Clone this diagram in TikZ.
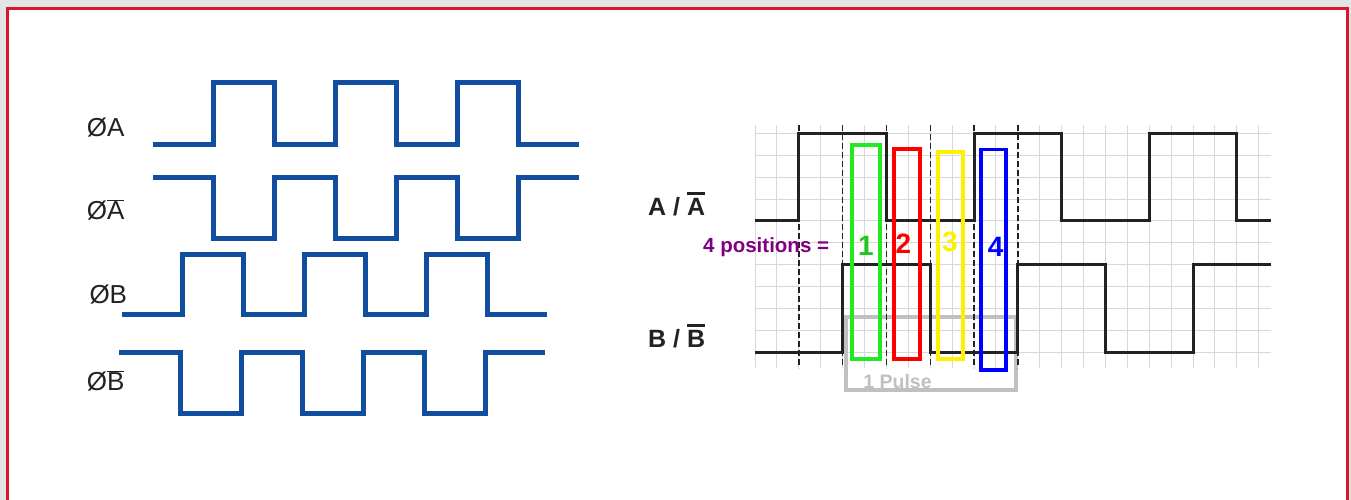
\documentclass[tikz,border=0pt]{standalone}
\usepackage{fontspec}
\setmainfont{Liberation Sans}
\definecolor{bgray}{RGB}{227,228,230}
\definecolor{frame}{RGB}{215,24,42}
\definecolor{sigblue}{RGB}{18,78,160}
\definecolor{ink}{RGB}{34,34,34}
\definecolor{gridc}{RGB}{216,216,216}
\definecolor{gbox}{RGB}{34,234,34}
\definecolor{rbox}{RGB}{255,0,0}
\definecolor{ybox}{RGB}{255,240,0}
\definecolor{bbox}{RGB}{0,0,255}
\definecolor{pulse}{RGB}{192,192,192}
\definecolor{purp}{RGB}{128,0,128}
\newcommand{\ovl}[1]{\ensuremath{\overline{\hbox{#1}}}}
\newcommand{\bovl}[1]{\vbox{\hrule height 2.6pt\kern 3.2pt\hbox{#1}}}
\begin{document}
\begin{tikzpicture}[x=1pt,y=-1pt,
  bluesig/.style={draw=sigblue,line width=5pt,line join=miter},
  blacksig/.style={draw=ink,line width=3pt,line join=miter},
  gridline/.style={draw=gridc,line width=1pt},
  dashline/.style={draw=ink,line width=1.4pt,dash pattern=on 6pt off 3pt},
  posbox/.style={line width=3.5pt},
  leftlabel/.style={anchor=base west,inner sep=0pt,text=ink,font=\fontsize{26}{30}\selectfont},
  rightlabel/.style={anchor=base west,inner sep=0pt,text=ink,font=\fontsize{25}{30}\selectfont\bfseries},
  numlabel/.style={inner sep=0pt,font=\fontsize{28}{32}\selectfont\bfseries}]
\useasboundingbox (0,0) rectangle (1351,500);
\fill[bgray] (0,0) rectangle (1351,500);
\fill[white] (7,9) rectangle (1347.5,510);
\draw[frame,line width=3pt] (7,510) -- (7,9) -- (1347.5,9) -- (1347.5,510);

% ---------- left waveforms ----------
\draw[bluesig] (153,144) -| (213,83) -| (274,144) -| (335,83) -| (396,144) -| (457,83) -| (518,144) -- (579,144);
\draw[bluesig] (153,177) -| (213,238) -| (274,177) -| (335,238) -| (396,177) -| (457,238) -| (518,177) -- (579,177);
\draw[bluesig] (122,314) -| (182,254) -| (243,314) -| (304,254) -| (365,314) -| (426,254) -| (487,314) -- (547,314);
\draw[bluesig] (119,352) -| (180,413) -| (241,352) -| (302,413) -| (363,352) -| (424,413) -| (485,352) -- (545,352);

\node[leftlabel] (la) at (86.7,136.7) {ØA};
\node[leftlabel] (lab) at (86.7,219) {Ø\ovl{A}};
\node[leftlabel] (lb) at (89.3,303.3) {ØB};
\node[leftlabel] (lbb) at (86.7,390) {Ø\ovl{B}};

% ---------- right grid ----------
\foreach \i in {0,...,23} {
  \pgfmathsetmacro{\xx}{755+\i*21.9}
  \draw[gridline] (\xx,125) -- (\xx,368);
}
\foreach \j in {0,...,10} {
  \pgfmathsetmacro{\yy}{133.3+\j*21.9}
  \draw[gridline] (755,\yy) -- (1271,\yy);
}

% pulse box
\draw[pulse,line width=4pt] (845.5,316.5) rectangle (1015.5,390);
\node[inner sep=0pt,anchor=base,text=pulse,font=\fontsize{19.5}{24}\selectfont\bfseries] (pl) at (897.5,388.3) {1 Pulse};

% dashed lines
\foreach \i in {2,4,6,8,10,12} {
  \pgfmathsetmacro{\xx}{755+\i*21.9}
  \draw[dashline] (\xx,125) -- (\xx,368);
}

% signals
\draw[blacksig] (755,220.9) -| (798.8,133.3) -| (886.4,220.9) -| (974,133.3) -| (1061.6,220.9) -| (1149.2,133.3) -| (1236.8,220.9) -- (1271,220.9);
\draw[blacksig] (755,352.3) -| (842.6,264.7) -| (930.2,352.3) -| (1017.8,264.7) -| (1105.4,352.3) -| (1193,264.7) -- (1271,264.7);

% position boxes
\draw[posbox,gbox] (852,145) rectangle (880,359);
\draw[posbox,rbox] (894,149) rectangle (920,359);
\draw[posbox,ybox] (938,152) rectangle (963,359);
\draw[posbox,bbox] (981,149.5) rectangle (1006,370);

\node[numlabel,text=gbox!85!black] (n1) at (866,246) {1};
\node[numlabel,text=rbox] (n2) at (903.5,244) {2};
\node[numlabel,text=ybox] (n3) at (950,242) {3};
\node[numlabel,text=bbox] (n4) at (995.7,247) {4};

\node[anchor=base west,inner sep=0pt,text=purp,font=\fontsize{20.5}{24}\selectfont\bfseries] (pos) at (703,252.7) {4 positions =};

\node[rightlabel] (ra) at (648,215) {A / \bovl{A}};
\node[rightlabel] (rb) at (648,347.3) {B / \bovl{B}};
\end{tikzpicture}
\end{document}
